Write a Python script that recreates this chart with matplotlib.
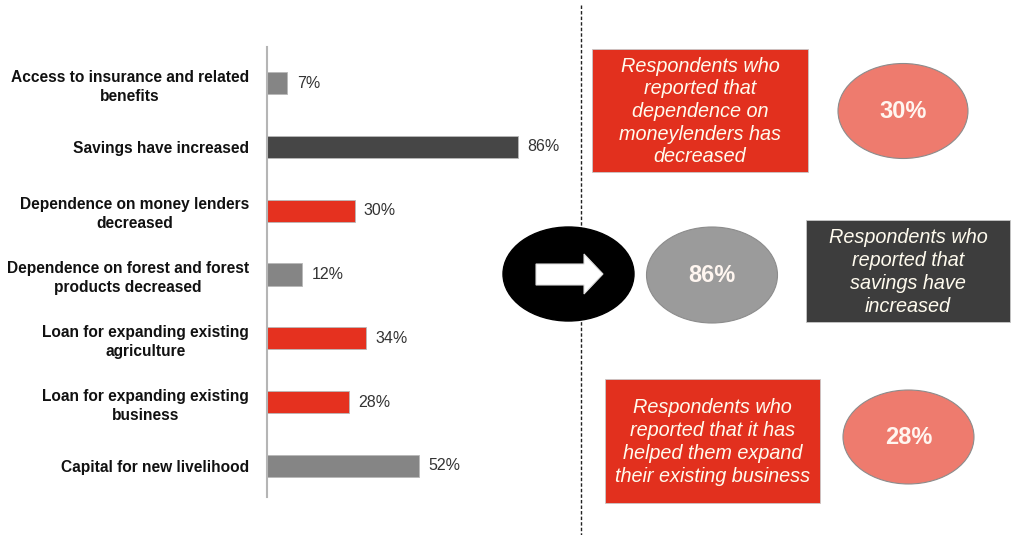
import matplotlib.pyplot as plt
import matplotlib.patches as mpatches

plt.rcParams['font.family'] = ['Liberation Sans', 'DejaVu Sans']

# survey outcomes (share of respondents, %)
categories = [
    'Access to insurance and related\nbenefits',
    'Savings have increased',
    'Dependence on money lenders\ndecreased',
    'Dependence on forest and forest\nproducts decreased',
    'Loan for expanding existing\nagriculture',
    'Loan for expanding existing\nbusiness',
    'Capital for new livelihood',
]
values = [7, 86, 30, 12, 34, 28, 52]
bar_colors = ['#858585', '#464646', '#e5311f', '#858585', '#e5311f', '#e5311f', '#858585']

# highlighted call-outs
callout_texts = [
    'Respondents who\nreported that\ndependence on\nmoneylenders has\ndecreased',
    'Respondents who\nreported that\nsavings have\nincreased',
    'Respondents who\nreported that it has\nhelped them expand\ntheir existing business',
]
callout_values = [30, 86, 28]

W, H = 1019, 535
fig = plt.figure(figsize=(W / 100, H / 100), dpi=100)


def px_rect(x0, y0, x1, y1):
    return [x0 / W, 1 - y1 / H, (x1 - x0) / W, (y1 - y0) / H]


# ---- bar chart ----
ax = fig.add_axes(px_rect(267, 47, 559, 497))
pos = list(range(len(categories)))
ax.barh(pos, values, height=0.345, color=bar_colors, edgecolor='#b8b8b8', linewidth=0.6)
ax.set_xlim(0, 100)
ax.set_ylim(6.486, -0.564)
for p, v in zip(pos, values):
    ax.text(v + 3.2, p, f'{v}%', va='center', ha='left', fontsize=11.5, color='#333333')
ax.set_yticks(pos)
ax.set_yticklabels(categories, fontsize=11.2, fontweight='bold', color='#111111', linespacing=1.35)
for t in ax.get_yticklabels():
    t.set_multialignment('center')
ax.tick_params(axis='y', length=0, pad=13)
ax.set_xticks([])
for s in ['top', 'right', 'bottom']:
    ax.spines[s].set_visible(False)
ax.spines['left'].set_color('#b5b5b5')
ax.spines['left'].set_linewidth(1.5)

# ---- overlay in pixel coordinates ----
ov = fig.add_axes([0, 0, 1, 1])
ov.set_xlim(0, W)
ov.set_ylim(H, 0)
ov.axis('off')

ov.plot([581, 581], [5, H], color='#222222', lw=1, ls=(0, (2.5, 1.5)), zorder=1)

# black circle with white arrow
ov.add_patch(mpatches.Ellipse((568.5, 274), 131, 94, color='black', zorder=2))
ov.add_patch(mpatches.Polygon([(536, 264), (584, 264), (584, 254), (603, 274),
                               (584, 294), (584, 285), (536, 285)],
                              closed=True, facecolor='white', edgecolor='#dddddd', lw=0.8, zorder=3))

# call-out boxes: (x0, y0, x1, y1, color)
boxes = [(592, 49, 808, 172, '#e2301e'), (806, 220, 1010, 322, '#3d3d3d'), (605, 379, 820, 503, '#e2301e')]
for (x0, y0, x1, y1, c), txt in zip(boxes, callout_texts):
    ov.add_patch(mpatches.Rectangle((x0, y0), x1 - x0, y1 - y0, facecolor=c,
                                    edgecolor='#c8c8c8', lw=0.6, zorder=2))
    ov.text((x0 + x1) / 2, (y0 + y1) / 2 + 1, txt, ha='center', va='center', fontsize=14.3,
            style='italic', color='#fffbee', linespacing=1.25, zorder=4)

# percentage bubbles: (cx, cy, w, h, color)
bubbles = [(903, 111, 130, 95, '#ee7b6e'), (712, 275, 131, 96, '#9b9b9b'), (908.5, 437, 131, 94, '#ee7b6e')]
for (cx, cy, w, h, c), v in zip(bubbles, callout_values):
    ov.add_patch(mpatches.Ellipse((cx, cy), w, h, facecolor=c, edgecolor='#8c8c8c', lw=0.8, zorder=2))
    ov.text(cx, cy, f'{v}%', ha='center', va='center', fontsize=17, fontweight='bold',
            color='#fff6f0', zorder=4)

fig.savefig('out.png', dpi=100)
